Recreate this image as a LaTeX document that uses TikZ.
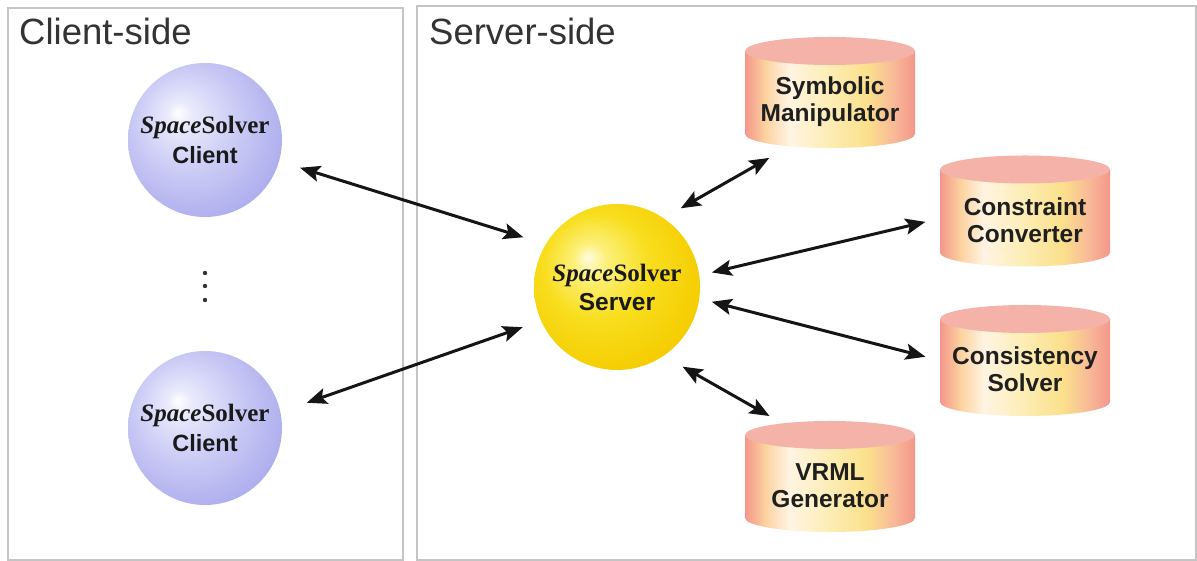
\documentclass[tikz,border=0pt]{standalone}
\usepackage{fontspec}
\setmainfont{Liberation Serif}
\setsansfont{Liberation Sans}
\usetikzlibrary{arrows.meta}
\definecolor{framegray}{HTML}{C4C4C4}
\definecolor{titlegray}{HTML}{333333}
\definecolor{arrowc}{HTML}{151515}
\definecolor{lavlight}{HTML}{EAEAFC}
\definecolor{lavmid}{HTML}{CCCCF6}
\definecolor{lav}{HTML}{AEAEEE}
\definecolor{lavdark}{HTML}{A4A4EA}
\definecolor{yhi}{HTML}{FFFBE0}
\definecolor{ylight}{HTML}{FCF07A}
\definecolor{ymid}{HTML}{F8DE1E}
\definecolor{yedge}{HTML}{F5CC00}
\definecolor{ydark}{HTML}{F0BE00}
\definecolor{cA}{HTML}{F4968A}
\definecolor{cB}{HTML}{FCD2A0}
\definecolor{cC}{HTML}{FFF4E2}
\definecolor{cD}{HTML}{FDEDB4}
\definecolor{cE}{HTML}{FBE08C}
\definecolor{cF}{HTML}{F8B898}
\definecolor{cyltopc}{HTML}{F5B2A8}
\pgfdeclareradialshading{clientball}{\pgfpoint{-9bp}{9bp}}{color(0bp)=(white); color(4bp)=(lavlight); color(16bp)=(lavmid); color(30bp)=(lav); color(50bp)=(lavdark)}
\pgfdeclareradialshading{serverball}{\pgfpoint{-9bp}{9bp}}{color(0bp)=(yhi); color(5bp)=(ylight); color(16bp)=(ymid); color(30bp)=(yedge); color(50bp)=(ydark)}
\pgfdeclarehorizontalshading{cylsh}{100bp}{color(0bp)=(cA); color(25bp)=(cA); color(31bp)=(cB); color(38bp)=(cC); color(50bp)=(cD); color(61bp)=(cE); color(69bp)=(cF); color(75bp)=(cA); color(100bp)=(cA)}
\newcommand\dbcyl[2]{%
  \node[cylbox] (#1) at (#2) {};
  \shade[shading=cylsh] ([yshift=-14pt]#1.north west) -- ([yshift=14pt]#1.south west)
     arc[start angle=180,end angle=360,x radius=85pt,y radius=14pt]
     -- ([yshift=-14pt]#1.north east) -- cycle;
  \fill[cyltopc] ([yshift=-14pt]#1.north) ellipse[x radius=85pt,y radius=14pt];
}
\tikzset{
  frame/.style={draw=framegray, line width=2pt},
  sidetitle/.style={anchor=base west, inner sep=0pt, text=titlegray, font=\sffamily\fontsize{36.5}{40}\selectfont},
  cball/.style={circle, minimum size=154pt, inner sep=0pt, outer sep=0pt, shade, shading=clientball, align=center, text=black!90, font=\fontsize{24}{30}\selectfont},
  sball/.style={circle, minimum size=166pt, inner sep=0pt, outer sep=0pt, shade, shading=serverball, align=center, text=black!90, font=\fontsize{24}{29}\selectfont},
  cylbox/.style={rectangle, minimum width=170pt, minimum height=111pt, inner sep=0pt, outer sep=0pt, draw=none},
  cyltext/.style={align=center, inner sep=0pt, text=black!88, font=\sffamily\bfseries\fontsize{24.5}{27}\selectfont},
  biarrow/.style={draw=arrowc, line width=3pt, {Stealth[length=20pt,width=16pt,inset=4pt]}-{Stealth[length=20pt,width=16pt,inset=4pt]}},
}
\newcommand\spsolver{{\bfseries\fontsize{25}{30}\selectfont\textit{Space}Solver}}
\begin{document}
\begin{tikzpicture}[x=1pt,y=1pt]
\useasboundingbox (0,0) rectangle (1197,561);
\fill[white] (0,0) rectangle (1197,561);
% frames
\draw[frame] (8,1) rectangle (403,553);
\draw[frame] (417,1) rectangle (1196,555);
\node[sidetitle] (ctitle) at (19,516) {Client-side};
\node[sidetitle] (stitle) at (429,516) {Server-side};
% clients
\node[cball] (c1) at (205,421) {\spsolver\\{\sffamily\bfseries\fontsize{23.5}{30}\selectfont Client}};
\node[cball] (c2) at (205,133) {\spsolver\\{\sffamily\bfseries\fontsize{23.5}{30}\selectfont Client}};
\fill[black!80] (205,288) circle (2.2pt) (205,275) circle (2.2pt) (205,261) circle (2.2pt);
% server
\node[sball] (srv) at (617,274) {\spsolver\\{\sffamily\bfseries\fontsize{24.5}{29}\selectfont Server}};
% cylinders
\dbcyl{sym}{830,468.5}
\dbcyl{con}{1025,350}
\dbcyl{cons}{1025,200.5}
\dbcyl{vrml}{830,84.5}
\node[cyltext] (symt) at ([yshift=-9pt]sym.center) {Symbolic\\Manipulator};
\node[cyltext] (cont) at ([yshift=-9pt]con.center) {Constraint\\Converter};
\node[cyltext] (const) at ([yshift=-9pt]cons.center) {Consistency\\Solver};
\node[cyltext] (vrmlt) at ([yshift=-9pt]vrml.center) {VRML\\Generator};
% connectors
\draw[biarrow, shorten <=22pt, shorten >=23.5pt] (c1.-16.1) -- (srv.149.6);
\draw[biarrow, shorten <=28pt, shorten >=19.6pt] (c2.12.6) -- (srv.204.6);
\draw[biarrow, shorten <=20pt, shorten >=20pt] (srv.56.7) -- (sym.232.9);
\draw[biarrow, shorten <=13pt, shorten >=15pt] (srv.8.3) -- (con.185);
\draw[biarrow, shorten <=13pt, shorten >=15pt] (srv.-8.3) -- (cons.180.7);
\draw[biarrow, shorten <=22pt, shorten >=10pt] (srv.-56.6) -- (vrml.133.2);
\end{tikzpicture}
\end{document}
